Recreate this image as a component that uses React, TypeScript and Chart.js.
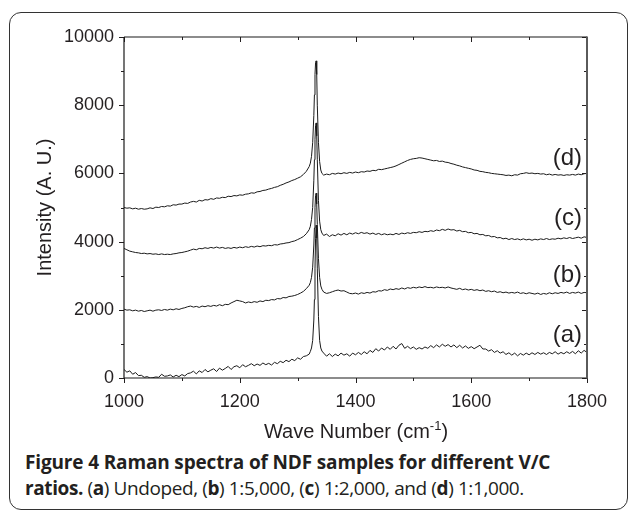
import React, { useEffect, useRef } from 'react';
import { Chart, registerables } from 'chart.js';

Chart.register(...registerables);

// ---- Data ----
const waveNumbers: number[] = [
  1000, 1005, 1010, 1015, 1020, 1025, 1030, 1035, 1040, 1045,
  1050, 1055, 1060, 1065, 1070, 1075, 1080, 1085, 1090, 1095,
  1100, 1105, 1110, 1115, 1120, 1125, 1130, 1135, 1140, 1145,
  1150, 1155, 1160, 1165, 1170, 1175, 1180, 1185, 1190, 1195,
  1200, 1205, 1210, 1215, 1220, 1225, 1230, 1235, 1240, 1245,
  1250, 1255, 1260, 1265, 1270, 1275, 1280, 1285, 1290, 1295,
  1300, 1305, 1310, 1315, 1320,
  1322, 1324, 1326, 1328, 1329, 1330, 1331, 1332, 1333, 1334, 1336, 1338, 1340, 1342,
  1345, 1350, 1355, 1360, 1365, 1370, 1375, 1380, 1385, 1390, 1395, 1400,
  1405, 1410, 1415, 1420, 1425, 1430, 1435, 1440, 1445, 1450, 1455, 1460, 1465, 1470, 1475, 1480, 1485, 1490, 1495, 1500,
  1505, 1510, 1515, 1520, 1525, 1530, 1535, 1540, 1545, 1550, 1555, 1560, 1565, 1570, 1575, 1580, 1585, 1590, 1595, 1600,
  1605, 1610, 1615, 1620, 1625, 1630, 1635, 1640, 1645, 1650, 1655, 1660, 1665, 1670, 1675, 1680, 1685, 1690, 1695, 1700,
  1705, 1710, 1715, 1720, 1725, 1730, 1735, 1740, 1745, 1750, 1755, 1760, 1765, 1770, 1775, 1780, 1785, 1790, 1795, 1800,
];

const spectrumA: number[] = [
  250, 170, 210, 110, 160, 70, 80, 20, 40, 0,
  10, 30, 20, 110, 50, 60, 90, 30, 80, 40,
  100, 60, 130, 150, 200, 120, 210, 160, 250, 180,
  230, 270, 190, 290, 230, 280, 340, 250, 330, 360,
  300, 390, 330, 370, 420, 360, 410, 370, 440, 390,
  430, 380, 460, 420, 490, 450, 520, 480, 550, 510,
  590, 550, 630, 650, 700,
  780, 880, 1100, 1700, 2300, 3200, 4100, 4480, 4100, 3200, 1800, 1100, 880, 790,
  730, 640, 710, 630, 700, 650, 730, 670, 710, 640, 730, 680,
  750, 690, 770, 710, 810, 750, 860, 790, 880, 820, 910, 840, 930, 850, 960, 1010, 870, 930, 860, 910,
  840, 890, 850, 910, 870, 950, 890, 970, 910, 990, 930, 980, 910, 970, 890, 960, 880, 940, 870, 920,
  860, 910, 960, 850, 850, 790, 830, 750, 800, 730, 770, 690, 740, 670, 730, 650, 720, 670, 730, 680,
  740, 690, 750, 700, 740, 690, 750, 710, 770, 700, 750, 710, 770, 720, 780, 710, 800, 730, 810, 750,
];

const spectrumB: number[] = [
  2020, 1990, 2000, 1970, 1990, 1960, 1980, 1950, 1970, 1990,
  1960, 1990, 2000, 1980, 2010, 1990, 2020, 2000, 2030, 2010,
  2040, 2060, 2090, 2110, 2080, 2100, 2070, 2110, 2090, 2120,
  2100, 2130, 2110, 2150, 2120, 2160, 2150, 2200, 2240, 2280,
  2260, 2240, 2200, 2230, 2210, 2240, 2220, 2260, 2240, 2280,
  2270, 2300, 2290, 2330, 2320, 2360, 2350, 2390, 2400, 2420,
  2450, 2490, 2540, 2620, 2720,
  2800, 2950, 3250, 3900, 4400, 5000, 5350, 5420, 5100, 4500, 3500, 2950, 2700, 2600,
  2520, 2480, 2500, 2530, 2560, 2580, 2550, 2560, 2520, 2480, 2470, 2490,
  2460, 2500, 2480, 2510, 2490, 2530, 2520, 2560, 2550, 2590, 2570, 2610, 2590, 2620, 2600, 2640, 2610, 2650, 2630, 2660,
  2640, 2670, 2650, 2680, 2650, 2660, 2640, 2670, 2650, 2660, 2640, 2670, 2640, 2620, 2600, 2630, 2590, 2610, 2580, 2600,
  2570, 2590, 2560, 2580, 2540, 2560, 2530, 2550, 2510, 2530, 2500, 2520, 2490, 2510, 2490, 2520, 2480, 2500, 2470, 2500,
  2480, 2460, 2490, 2450, 2480, 2460, 2500, 2470, 2500, 2480, 2510, 2490, 2520, 2480, 2510, 2490, 2520, 2480, 2510, 2500,
];

const spectrumC: number[] = [
  3800, 3760, 3720, 3700, 3680, 3670, 3650, 3660, 3640, 3650,
  3630, 3640, 3620, 3640, 3620, 3630, 3620, 3640, 3650, 3670,
  3680, 3700, 3720, 3750, 3780, 3760, 3800, 3790, 3820, 3800,
  3830, 3810, 3840, 3810, 3830, 3800, 3820, 3800, 3830, 3810,
  3840, 3820, 3850, 3830, 3860, 3840, 3870, 3850, 3880, 3870,
  3890, 3880, 3910, 3900, 3930, 3940, 3960, 3970, 4000, 4020,
  4060, 4100, 4150, 4230, 4350,
  4450, 4650, 5000, 5800, 6400, 7000, 7400, 7480, 7100, 6400, 5200, 4600, 4350, 4250,
  4180, 4220, 4150, 4200, 4170, 4230, 4190, 4240, 4200, 4250, 4220, 4260,
  4230, 4270, 4240, 4260, 4220, 4250, 4210, 4240, 4200, 4230, 4200, 4220, 4200, 4240, 4210, 4250, 4230, 4260, 4240, 4270,
  4260, 4290, 4270, 4300, 4290, 4320, 4300, 4340, 4320, 4360, 4330, 4370, 4340, 4350, 4310, 4330, 4290, 4300, 4260, 4270,
  4230, 4240, 4200, 4210, 4170, 4180, 4140, 4150, 4110, 4120, 4080, 4100, 4060, 4090, 4060, 4080, 4050, 4080, 4050, 4070,
  4040, 4070, 4050, 4080, 4060, 4090, 4060, 4080, 4070, 4100, 4080, 4110, 4090, 4120, 4090, 4110, 4130, 4100, 4140, 4120,
];

const spectrumD: number[] = [
  5000, 4980, 4990, 4960, 4980, 4950, 4970, 4950, 4960, 4990,
  4970, 5010, 5000, 5030, 5020, 5050, 5040, 5080, 5070, 5100,
  5100, 5130, 5120, 5160, 5180, 5160, 5210, 5190, 5230, 5220,
  5260, 5240, 5280, 5270, 5300, 5290, 5330, 5320, 5350, 5340,
  5370, 5360, 5390, 5400, 5430, 5420, 5460, 5470, 5500, 5510,
  5540, 5560, 5590, 5610, 5650, 5680, 5720, 5750, 5790, 5820,
  5860, 5900, 5970, 6060, 6200,
  6300, 6500, 6900, 7700, 8300, 8900, 9250, 9300, 8900, 8000, 6900, 6350, 6100, 6000,
  5950, 5980, 5960, 6000, 5980, 6010, 5990, 6020, 6000, 6030, 6010, 6040,
  6020, 6050, 6040, 6070, 6060, 6090, 6080, 6120, 6110, 6130, 6150, 6170, 6190, 6220, 6260, 6300, 6340, 6380, 6410, 6430,
  6440, 6460, 6450, 6430, 6410, 6390, 6370, 6380, 6350, 6360, 6330, 6320, 6290, 6270, 6240, 6220, 6190, 6170, 6150, 6130,
  6100, 6090, 6060, 6050, 6030, 6020, 6000, 5990, 5980, 5970, 5960, 5940, 5950, 5930, 5960, 5950, 5990, 6000, 6020, 6000,
  6010, 5990, 6000, 5980, 5990, 5960, 5980, 5950, 5970, 5950, 5960, 5940, 5960, 5950, 5970, 5950, 5980, 5960, 5990, 6000,
];

const seriesNames: string[] = ['(a)', '(b)', '(c)', '(d)'];
const seriesLabelLevels: number[] = [1260, 3020, 4690, 6450];

const xMajorTicks: number[] = [1000, 1200, 1400, 1600, 1800];
const xMinorTicks: number[] = [1100, 1300, 1500, 1700];
const yMajorTicks: number[] = [0, 2000, 4000, 6000, 8000, 10000];
const yMinorTicks: number[] = [1000, 3000, 5000, 7000, 9000];

const FONT = "'Liberation Sans', Arial, Helvetica, sans-serif";
const INK = '#231f20';

const framePlugin = {
  id: 'frameAndLabels',
  afterDatasetsDraw(chart: any) {
    const { ctx, chartArea, scales } = chart;
    const { left, right, top, bottom } = chartArea;
    const xs = scales.x;
    const ys = scales.y;
    ctx.save();
    const seg = (x1: number, y1: number, x2: number, y2: number) => {
      ctx.beginPath();
      ctx.moveTo(x1, y1);
      ctx.lineTo(x2, y2);
      ctx.stroke();
    };
    ctx.strokeStyle = INK;
    ctx.lineWidth = 1;
    const xt = [...xMajorTicks.map((v) => [v, 5]), ...xMinorTicks.map((v) => [v, 3])];
    xt.forEach(([v, len]) => {
      const px = Math.round(xs.getPixelForValue(v)) + 0.5;
      seg(px, bottom, px, bottom + len);
      seg(px, top, px, top + len);
    });
    const yt = [...yMajorTicks.map((v) => [v, 5]), ...yMinorTicks.map((v) => [v, 3])];
    yt.forEach(([v, len]) => {
      const py = Math.round(ys.getPixelForValue(v)) + 0.5;
      seg(left, py, left - len, py);
      seg(right, py, right - len, py);
    });
    // frame
    ctx.lineWidth = 1.2;
    ctx.strokeStyle = '#1a1a1a';
    seg(left, top, right, top);
    seg(left, top, left, bottom);
    seg(left, bottom, right, bottom);
    ctx.strokeStyle = '#5a5a5a';
    ctx.lineWidth = 2;
    seg(right, top - 0.5, right, bottom + 0.5);
    // series labels
    ctx.fillStyle = INK;
    ctx.font = `24px ${FONT}`;
    ctx.textAlign = 'right';
    ctx.textBaseline = 'middle';
    seriesNames.forEach((name, i) => {
      ctx.fillText(name, xs.getPixelForValue(xMajorTicks[xMajorTicks.length - 1]) - 5, ys.getPixelForValue(seriesLabelLevels[i]));
    });
    ctx.restore();
  },
};

export default function App() {
  const canvasRef = useRef<HTMLCanvasElement | null>(null);

  useEffect(() => {
    const canvas = canvasRef.current;
    if (!canvas) return;
    const spectra = [spectrumA, spectrumB, spectrumC, spectrumD];
    const chart = new Chart(canvas, {
      type: 'line',
      data: {
        datasets: spectra.map((s, i) => ({
          label: seriesNames[i],
          data: waveNumbers.map((w, j) => ({ x: w, y: s[j] })),
          borderColor: '#1a1a1a',
          borderWidth: 1,
          pointRadius: 0,
          tension: 0,
          fill: false,
        })),
      },
      options: {
        animation: false,
        responsive: false,
        events: [],
        layout: { padding: { left: 0, top: 37, right: 42, bottom: 0 } },
        plugins: { legend: { display: false }, tooltip: { enabled: false } },
        scales: {
          x: {
            type: 'linear',
            min: xMajorTicks[0],
            max: xMajorTicks[xMajorTicks.length - 1],
            afterBuildTicks: (scale: any) => {
              scale.ticks = xMajorTicks.map((v) => ({ value: v }));
            },
            afterFit: (scale: any) => {
              scale.height = 42;
            },
            grid: { display: false, drawTicks: false, tickLength: 0 },
            border: { display: false },
            ticks: {
              autoSkip: false,
              maxRotation: 0,
              padding: 13,
              color: INK,
              font: { family: FONT, size: 18 },
              callback: (v: any) => String(v),
            },
          },
          y: {
            type: 'linear',
            min: yMajorTicks[0],
            max: yMajorTicks[yMajorTicks.length - 1],
            afterBuildTicks: (scale: any) => {
              scale.ticks = yMajorTicks.map((v) => ({ value: v }));
            },
            afterFit: (scale: any) => {
              scale.width = 124;
            },
            grid: { display: false, drawTicks: false, tickLength: 0 },
            border: { display: false },
            ticks: {
              autoSkip: false,
              padding: 10,
              color: INK,
              font: { family: FONT, size: 18 },
              callback: (v: any) => String(v),
            },
            title: {
              display: true,
              text: 'Intensity (A. U.)',
              color: INK,
              font: { family: FONT, size: 20 },
              padding: { top: 33, bottom: 0 },
            },
          },
        },
      },
      plugins: [framePlugin],
    } as any);
    return () => chart.destroy();
  }, []);

  return (
    <div style={{ position: 'absolute', left: 0, top: 0, width: 629, height: 512, background: '#fff', overflow: 'hidden' }}>
      <div
        style={{
          position: 'absolute',
          left: 9,
          top: 12,
          width: 619,
          height: 498,
          boxSizing: 'border-box',
          border: '1.6px solid #333',
          borderRadius: 12,
        }}
      />
      <canvas ref={canvasRef} width={629} height={420} style={{ position: 'absolute', left: 0, top: 0, width: 629, height: 420 }} />
      <div
        style={{
          position: 'absolute',
          left: 356,
          top: 419,
          transform: 'translateX(-50%)',
          whiteSpace: 'nowrap',
          fontFamily: FONT,
          fontSize: 20,
          lineHeight: '24px',
          color: INK,
        }}
      >
        Wave Number (cm<span style={{ fontSize: 13, position: 'relative', top: -8 }}>-1</span>)
      </div>
      <div
        style={{
          position: 'absolute',
          left: 25,
          top: 449,
          whiteSpace: 'nowrap',
          fontFamily: "'Open Sans', 'Noto Sans', sans-serif",
          fontSize: 19,
          lineHeight: '26px',
          color: INK,
        }}
      >
        <span style={{ fontWeight: 700, letterSpacing: -0.15 }}>Figure 4 Raman spectra of NDF samples for different V/C</span>
        <br />
        <span style={{ letterSpacing: -0.4 }}>
          <b>ratios.</b> (<b>a</b>) Undoped, (<b>b</b>) 1:5,000, (<b>c</b>) 1:2,000, and (<b>d</b>) 1:1,000.
        </span>
      </div>
    </div>
  );
}
